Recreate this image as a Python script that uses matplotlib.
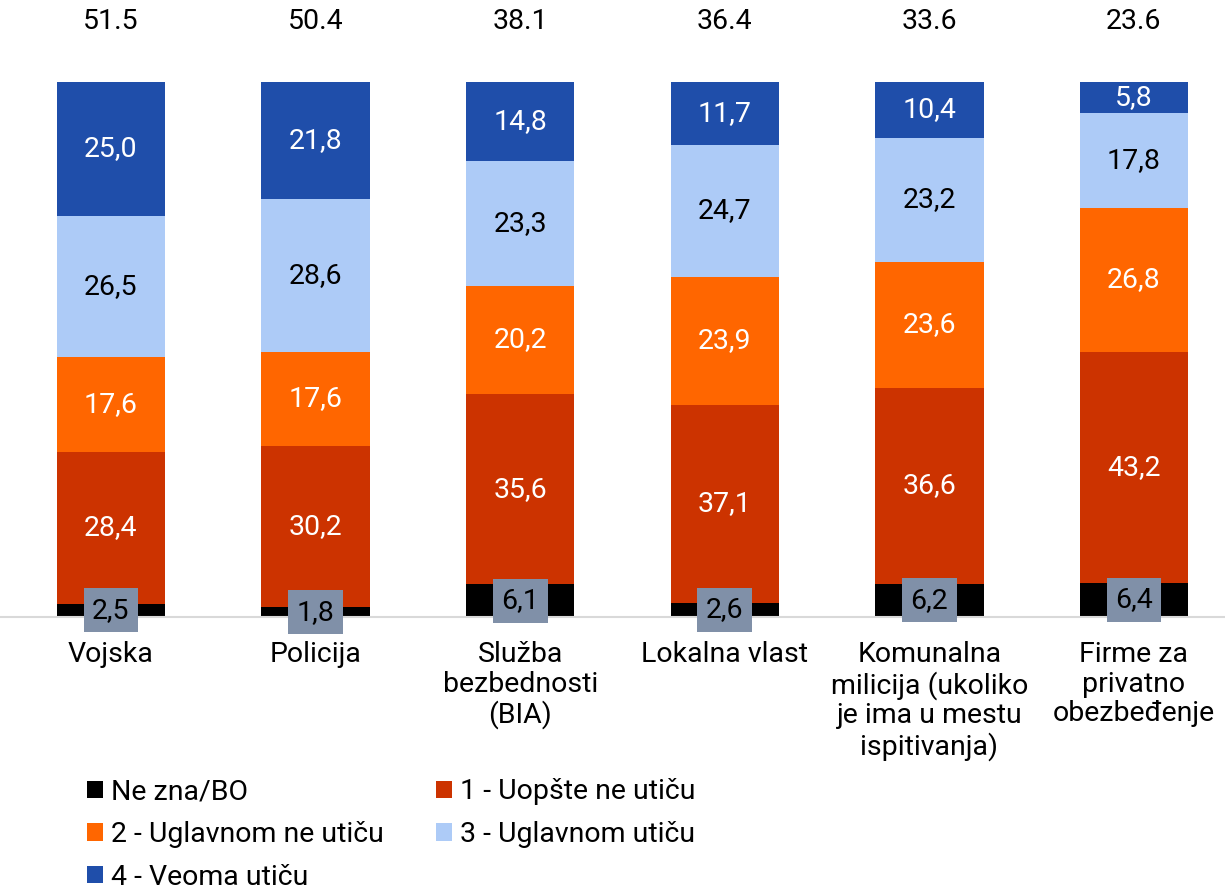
import matplotlib
matplotlib.use("Agg")
import matplotlib.pyplot as plt
from matplotlib.patches import Patch
import numpy as np

plt.rcParams['font.family'] = ['Roboto', 'DejaVu Sans']

categories = ["Vojska", "Policija", "Služba\nbezbednosti\n(BIA)", "Lokalna vlast",
              "Komunalna\nmilicija (ukoliko\nje ima u mestu\nispitivanja)",
              "Firme za\nprivatno\nobezbeđenje"]
ne_zna = [2.5, 1.8, 6.1, 2.6, 6.2, 6.4]
s1 = [28.4, 30.2, 35.6, 37.1, 36.6, 43.2]
s2 = [17.6, 17.6, 20.2, 23.9, 23.6, 26.8]
s3 = [26.5, 28.6, 23.3, 24.7, 23.2, 17.8]
s4 = [25.0, 21.8, 14.8, 11.7, 10.4, 5.8]
totals = ["51.5", "50.4", "38.1", "36.4", "33.6", "23.6"]
series_names = ["Ne zna/BO", "1 - Uopšte ne utiču", "2 - Uglavnom ne utiču",
                "3 - Uglavnom utiču", "4 - Veoma utiču"]
colors = ["#000000", "#CC3300", "#FF6600", "#ADCBF7", "#1F4EAA"]
text_colors = [None, "white", "white", "black", "white"]

FS = 20.5

fig = plt.figure(figsize=(12.25, 8.88), dpi=100)
ax = fig.add_axes([0.0, 0.3052, 1.0, 0.6025])

x = np.arange(len(categories))
w = 0.53
bottom = np.zeros(len(categories))
series = [ne_zna, s1, s2, s3, s4]
for i, (vals, col) in enumerate(zip(series, colors)):
    vals = np.array(vals)
    ax.bar(x, vals, w, bottom=bottom, color=col, edgecolor='none', zorder=2)
    for xi, v, bt in zip(x, vals, bottom):
        label = f"{v:.1f}".replace('.', ',')
        if i == 0:
            ax.text(xi, bt + v / 2, label, ha='center', va='center', fontsize=FS, color='black',
                    zorder=5, clip_on=False,
                    bbox=dict(boxstyle='square,pad=0.3', facecolor='#8090A8', edgecolor='none'))
        else:
            ax.text(xi, bt + v / 2, label, ha='center', va='center', fontsize=FS,
                    color=text_colors[i], zorder=4)
    bottom += vals

for xi, t in zip(x, totals):
    ax.text(xi, 111.3, t, ha='center', va='center', fontsize=FS, color='black', clip_on=False)

ax.set_xlim(-0.5425, 5.445)
ax.set_ylim(0, 100)
ax.set_yticks([])
ax.set_xticks(x)
ax.set_xticklabels(categories, fontsize=FS, linespacing=1.14, va='top')
ax.tick_params(axis='x', length=0, pad=17)
for s in ['top', 'left', 'right']:
    ax.spines[s].set_visible(False)
ax.spines['bottom'].set_color('#D9D9D9')
ax.spines['bottom'].set_linewidth(1.5)

order = [0, 2, 4, 1, 3]
handles = [Patch(facecolor=colors[k], edgecolor='none') for k in order]
labels = [series_names[k] for k in order]
fig.legend(handles, labels, loc='upper left', bbox_to_anchor=(0.071, 0.1235),
           ncol=2, frameon=False, fontsize=FS, handlelength=0.56, handleheight=0.56,
           handletextpad=0.3, columnspacing=1.8, labelspacing=0.55,
           borderaxespad=0, borderpad=0,
           bbox_transform=fig.transFigure)

fig.savefig("out.png", dpi=100)
